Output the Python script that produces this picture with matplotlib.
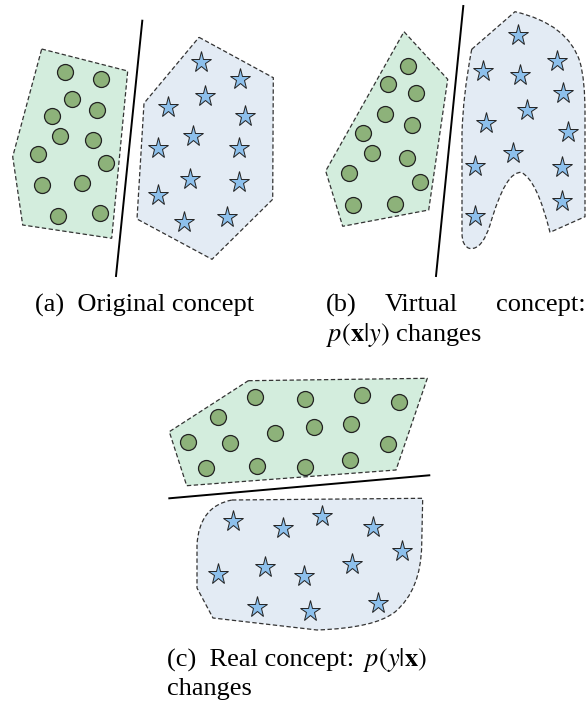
import matplotlib.pyplot as plt
from matplotlib.path import Path
from matplotlib.patches import Polygon, PathPatch

# ---- panel (a) -------------------------------------------------------------
a_green_hull = [(41.7, 49), (127.7, 71), (111.7, 238.3), (22.7, 225), (12.7, 156.7)]
a_circles_x = [65, 101, 72.3, 97.3, 52.3, 59.7, 93, 38, 105.7, 41.7, 82, 57.7, 100.3]
a_circles_y = [71.7, 78.7, 99, 109.7, 116.3, 135.7, 140.3, 154.3, 163.3, 185, 183.3, 216.3, 213.3]
a_blue_hull = [(199, 37.3), (273.3, 77.7), (272.7, 199.3), (212, 259.3), (137, 219),
               (144, 103.3), (147.3, 99.3)]
a_stars_x = [200.7, 240, 205, 167.7, 245, 193.3, 157.7, 239.3, 190, 238.7, 157.7, 184.3, 227.3]
a_stars_y = [62.3, 79.3, 95.7, 107.3, 115.7, 135.7, 147.7, 148.3, 179.3, 181.7, 195.3, 222.3, 217]
a_divider = [(142.3, 20.7), (116, 276)]

# ---- panel (b) -------------------------------------------------------------
b_green_hull = [(404, 31.7), (447.7, 79.3), (428.7, 210), (342.7, 226.3), (325.7, 171)]
b_circles_x = [408.3, 388, 416, 385.3, 411.7, 363.3, 371.7, 406.7, 348.7, 420.3, 352.7, 395.3]
b_circles_y = [66, 84, 92.7, 113.7, 125.3, 132.7, 153.3, 158, 172.7, 182.3, 205, 203.7]
b_blob_pts = [(471.7, 49.3), (515, 11.7), (568, 24), (580, 62), (585, 80), (585, 112),
              (585, 216.7), (550, 232.3), (537, 180), (521.5, 172.5), (506, 170),
              (490, 225), (482, 250), (470, 248.5), (462, 247), (462, 233),
              (462, 133), (463, 95), (471.7, 49.3)]
b_blob_codes = ['M', 'L', 'C', 'C', 'C', 'C', 'L', 'L', 'C', 'C', 'C', 'C', 'C', 'C',
                'C', 'C', 'L', 'C', 'C']
b_stars_x = [517.7, 556.7, 482.7, 520, 562.7, 526.7, 486, 567.7, 512.7, 475, 561.7, 475, 561.7]
b_stars_y = [35, 61, 70.7, 75, 93.3, 110, 122.7, 131.7, 153.3, 165.7, 166.7, 216, 201.3]
b_divider = [(463.3, 6), (436, 276)]

# ---- panel (c) -------------------------------------------------------------
c_green_hull = [(248.3, 380.7), (427.3, 378.3), (396, 470), (186.7, 485.7), (169.3, 431.7)]
c_circles_x = [255, 305.3, 361.7, 399.3, 218.3, 313.7, 351.3, 275, 188, 230.3, 387.7,
               206.3, 256.7, 305, 350]
c_circles_y = [397.3, 398.7, 395.3, 402, 416.7, 427.3, 424.3, 433.3, 441.7, 443.3, 444.3,
               468.3, 466.3, 466.7, 460]
c_blob_pts = [(232, 500), (422.7, 498.3), (421.7, 545), (421, 590), (395, 612),
              (375, 628), (317, 630), (213, 618), (197, 588), (197, 545),
              (199, 506), (232, 500)]
c_blob_codes = ['M', 'L', 'L', 'C', 'C', 'C', 'C', 'L', 'L', 'L', 'C', 'C']
c_stars_x = [233.3, 283.3, 321.7, 372.7, 401.7, 218.3, 265.3, 304.3, 351.7, 256.7, 310, 377.7]
c_stars_y = [520.7, 528, 516, 527.3, 551, 574, 567.3, 576, 564.3, 606.7, 611, 602.7]
c_divider = [(169.3, 498.3), (429.3, 475.3)]

GREEN_FILL = '#d3eddd'
BLUE_FILL = '#e3ebf4'
CIRCLE = '#8db27a'
STAR = '#8dc0ec'
EDGE = '#222222'
DASH = (0, (3.5, 2))

plt.rcParams['font.family'] = ['Liberation Serif', 'DejaVu Serif']
plt.rcParams['mathtext.fontset'] = 'stix'

fig = plt.figure(figsize=(5.88, 7.04), dpi=100)
ax = fig.add_axes([0, 0, 1, 1])
ax.set_xlim(0, 588)
ax.set_ylim(704, 0)
ax.axis('off')


def hull(pts, color):
    ax.add_patch(Polygon(pts, closed=True, facecolor=color, edgecolor='#333333',
                         linestyle=DASH, linewidth=0.9, zorder=1))


def blob(pts, codes, color):
    cmap = {'M': Path.MOVETO, 'L': Path.LINETO, 'C': Path.CURVE3}
    path = Path(pts, [cmap[c] for c in codes])
    ax.add_patch(PathPatch(path, facecolor=color, edgecolor='#333333',
                           linestyle=DASH, linewidth=0.9, zorder=1))


def circles(xs, ys):
    ax.plot(xs, ys, 'o', ms=11.5, mfc=CIRCLE, mec=EDGE, mew=0.9, zorder=3)


def stars(xs, ys):
    ax.plot(xs, ys, '*', ms=15.5, mfc=STAR, mec=EDGE, mew=0.7, zorder=3)


def divider(seg):
    ax.plot([seg[0][0], seg[1][0]], [seg[0][1], seg[1][1]], color='black', lw=1.4, zorder=2)


hull(a_green_hull, GREEN_FILL)
hull(a_blue_hull, BLUE_FILL)
circles(a_circles_x, a_circles_y)
stars(a_stars_x, a_stars_y)
divider(a_divider)

hull(b_green_hull, GREEN_FILL)
blob(b_blob_pts, b_blob_codes, BLUE_FILL)
circles(b_circles_x, b_circles_y)
stars(b_stars_x, b_stars_y)
divider(b_divider)

hull(c_green_hull, GREEN_FILL)
blob(c_blob_pts, c_blob_codes, BLUE_FILL)
circles(c_circles_x, c_circles_y)
stars(c_stars_x, c_stars_y)
divider(c_divider)

fs = 19
ax.text(35, 305, '(a)  Original concept', fontsize=fs, va='center', ha='left')
ax.text(326, 305, '(b)', fontsize=fs, va='center', ha='left')
ax.text(421, 305, 'Virtual', fontsize=fs, va='center', ha='center')
ax.text(586, 305, 'concept:', fontsize=fs, va='center', ha='right')
ax.text(326, 335, r'$p(\mathbf{x}|y)$ changes', fontsize=fs, va='center', ha='left')
ax.text(167, 660, '(c)  Real concept:', fontsize=fs, va='center', ha='left')
ax.text(427, 660, r'$p(y|\mathbf{x})$', fontsize=fs, va='center', ha='right')
ax.text(167, 689, 'changes', fontsize=fs, va='center', ha='left')

fig.savefig('out.png', dpi=100)
